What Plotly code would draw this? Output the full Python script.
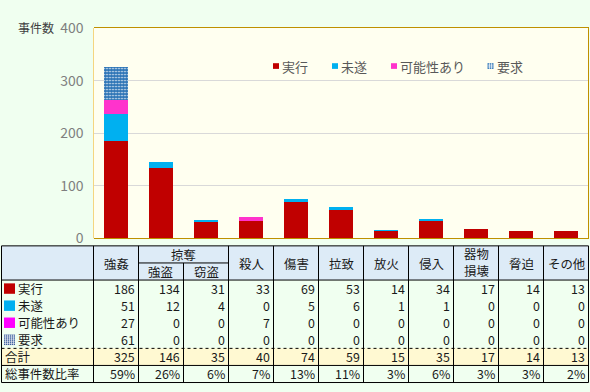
import plotly.graph_objects as go

# ---------------- data ----------------
categories = ["強姦", "強盗", "窃盗", "殺人", "傷害", "拉致", "放火", "侵入", "器物損壊", "脅迫", "その他"]
header_labels = ["強姦", "強盗", "窃盗", "殺人", "傷害", "拉致", "放火", "侵入", "器物<br>損壊", "脅迫", "その他"]
group_label = "掠奪"          # spans 強盗 and 窃盗
group_span = (1, 2)
series_names = ["実行", "未遂", "可能性あり", "要求"]
jikko = [186, 134, 31, 33, 69, 53, 14, 34, 17, 14, 13]
misui = [51, 12, 4, 0, 5, 6, 1, 1, 0, 0, 0]
kanousei = [27, 0, 0, 7, 0, 0, 0, 0, 0, 0, 0]
youkyuu = [61, 0, 0, 0, 0, 0, 0, 0, 0, 0, 0]
totals = [325, 146, 35, 40, 74, 59, 15, 35, 17, 14, 13]
ratios = ["59%", "26%", "6%", "7%", "13%", "11%", "3%", "6%", "3%", "3%", "2%"]
total_label = "合計"
ratio_label = "総事件数比率"
y_title = "事件数"
y_ticks = [0, 100, 200, 300, 400]

# ---------------- styling ----------------
W, H = 590, 392
FONT = "Noto Sans CJK JP"
PAGE_BG = "#F0FFF0"
PLOT_BG = "#FFFFF0"
HEAD_BG = "#DDEBF7"
TOTAL_BG = "#FFF9D2"
C_JIKKO = "#C00000"
C_MISUI = "#00B0F0"
C_KANOU = "#FF33CC"
C_KANOU_T = "#FF00FF"
C_YOUK = "#2E75B6"
TXT = "#1A1A1A"
TFS = 12.4   # table font size

PLOT_L, PLOT_R, PLOT_T, PLOT_B = 93.5, 588.5, 18, 239.5


def fx(p):
    return p / W


def fy(p):
    return 1 - p / H


fig = go.Figure()
series_vals = [jikko, misui, kanousei, youkyuu]
colors = [C_JIKKO, C_MISUI, C_KANOU, C_YOUK]
for name, vals, col in zip(series_names, series_vals, colors):
    marker = dict(color=col, line=dict(width=0))
    if name == "要求":
        marker = dict(color=col, line=dict(width=0),
                      pattern=dict(shape=".", bgcolor=col, fgcolor="white",
                                   size=3, solidity=0.22, fillmode="replace"))
    fig.add_trace(go.Bar(x=categories, y=vals, name=name, marker=marker,
                         width=0.53, showlegend=False))

shapes = []
annotations = []

# plot-area frame
shapes.append(dict(type="line", xref="paper", yref="paper", x0=fx(PLOT_L), x1=fx(PLOT_L),
                   y0=fy(PLOT_B), y1=fy(PLOT_T), line=dict(color="#F5D680", width=1)))
shapes.append(dict(type="line", xref="paper", yref="paper", x0=fx(PLOT_R), x1=fx(PLOT_R),
                   y0=fy(PLOT_B), y1=fy(PLOT_T), line=dict(color="#BF9000", width=1)))

# y-axis title
annotations.append(dict(text=y_title, xref="paper", yref="paper", x=fx(36), y=fy(17),
                        xanchor="center", yanchor="middle", showarrow=False, borderpad=0,
                        font=dict(family=FONT, size=12, color="#404040")))

# manual legend
lx = 273
for name, col in zip(series_names, colors):
    shapes.append(dict(type="rect", xref="paper", yref="paper", x0=fx(lx), x1=fx(lx + 6),
                       y0=fy(61), y1=fy(55), fillcolor=col, line=dict(width=0)))
    if name == "要求":
        for off in (2, 4):
            shapes.append(dict(type="line", xref="paper", yref="paper", x0=fx(lx + off), x1=fx(lx + off),
                               y0=fy(61), y1=fy(55), line=dict(color="white", width=0.7)))
            shapes.append(dict(type="line", xref="paper", yref="paper", x0=fx(lx), x1=fx(lx + 6),
                               y0=fy(55 + off), y1=fy(55 + off), line=dict(color="white", width=0.7)))
    annotations.append(dict(text=name, xref="paper", yref="paper", x=fx(lx + 8), y=fy(58),
                            xanchor="left", yanchor="middle", showarrow=False, borderpad=0,
                            font=dict(family=FONT, size=13, color="#595959")))
    lx += 34 + 12.5 * len(name)

# ---------------- table ----------------
TL, TR = 1.5, PLOT_R
T_TOP, T_MID, T_HB = 247.5, 265.5, 283.5
ROW_H = 18
n = len(categories)
CW = (PLOT_R - PLOT_L) / n
col_x = [PLOT_L + k * CW for k in range(n + 1)]
row_labels = series_names + [total_label, ratio_label]
row_edges = [T_HB + i * ROW_H for i in range(len(row_labels) + 1)]
T_BOT = row_edges[-1]


def rect(x0, x1, y0, y1, fill):
    shapes.append(dict(type="rect", xref="paper", yref="paper", x0=fx(x0), x1=fx(x1),
                       y0=fy(y1), y1=fy(y0), fillcolor=fill, line=dict(width=0)))


def hline(y, x0, x1, dash="solid", color="black", width=1):
    shapes.append(dict(type="line", xref="paper", yref="paper", x0=fx(x0), x1=fx(x1),
                       y0=fy(y), y1=fy(y), line=dict(color=color, width=width, dash=dash)))


def vline(x, y0, y1, color="black", width=1):
    shapes.append(dict(type="line", xref="paper", yref="paper", x0=fx(x), x1=fx(x),
                       y0=fy(y0), y1=fy(y1), line=dict(color=color, width=width)))


def text(t, x, y, anchor="center", size=TFS, color=TXT):
    annotations.append(dict(text=t, xref="paper", yref="paper", x=fx(x), y=fy(y),
                            xanchor=anchor, yanchor="middle", showarrow=False, borderpad=0,
                            font=dict(family=FONT, size=size, color=color)))


# backgrounds
rect(TL, TR, T_TOP, T_HB, HEAD_BG)
tot_i = row_labels.index(total_label)
rect(TL, TR, row_edges[tot_i], row_edges[tot_i + 1], TOTAL_BG)

# label squares
sq_cols = [C_JIKKO, C_MISUI, C_KANOU_T, "#2F5597"]
for i, col in enumerate(sq_cols):
    cy = (row_edges[i] + row_edges[i + 1]) / 2
    rect(4, 15, cy - 5.5, cy + 5.5, col)
    if i == 3:
        for off in (1.5, 3.5, 5.5, 7.5, 9.5):
            vline(4 + off, cy - 5.5, cy + 5.5, color="white", width=0.6)
            hline(cy - 5.5 + off, 4, 15, color="white", width=0.6)

# grid lines
hline(T_TOP, TL, TR)
hline(T_HB, TL, TR)
hline(T_BOT, TL, TR)
hline(row_edges[tot_i], TL, TR, dash="dot")
hline(row_edges[tot_i + 1], TL, TR)
g0, g1 = group_span
hline(T_MID, col_x[g0], col_x[g1 + 1])
vline(TL, T_TOP, T_BOT)
for k in range(n + 1):
    top = T_MID if (g0 < k <= g1) else T_TOP
    vline(col_x[k], top, T_BOT)

# header texts
for k, lab in enumerate(header_labels):
    cx = (col_x[k] + col_x[k + 1]) / 2
    if g0 <= k <= g1:
        text(lab, cx, (T_MID + T_HB) / 2 + 1)
    elif "<br>" in lab:
        parts = lab.split("<br>")
        text(parts[0], cx, (T_TOP + T_MID) / 2 - 0.5)
        text(parts[1], cx, (T_MID + T_HB) / 2)
    else:
        text(lab, cx, (T_TOP + T_HB) / 2 + 1)
text(group_label, (col_x[g0] + col_x[g1 + 1]) / 2, (T_TOP + T_MID) / 2 + 1)

# body
table_rows = series_vals + [totals, ratios]
for i, (lab, vals) in enumerate(zip(row_labels, table_rows)):
    cy = (row_edges[i] + row_edges[i + 1]) / 2 + 0.5
    lx0 = 17 if i < len(series_names) else 4
    text(lab, lx0, cy, anchor="left")
    for k, v in enumerate(vals):
        text(str(v), col_x[k + 1] - 3, cy, anchor="right")

fig.update_layout(
    width=W, height=H, autosize=False,
    margin=dict(l=0, r=0, t=0, b=0),
    paper_bgcolor=PAGE_BG, plot_bgcolor=PLOT_BG,
    barmode="stack", bargap=0.47,
    font=dict(family=FONT),
    xaxis=dict(domain=[fx(PLOT_L), fx(PLOT_R)], type="category", range=[-0.5, n - 0.5],
               showticklabels=False, showgrid=False, zeroline=False, ticks="",
               showline=True, linecolor="#BF9000", linewidth=1, mirror=True),
    yaxis=dict(domain=[fy(PLOT_B), fy(PLOT_T)], range=[0, 400], tickvals=y_ticks,
               showgrid=True, gridcolor="#D9D9D9", gridwidth=1, zeroline=False,
               showline=False, ticks="", ticklabelstandoff=9,
               tickfont=dict(family=FONT, size=14, color="#7F7F7F")),
    shapes=shapes, annotations=annotations,
)

fig.write_html("out.html", config={"displayModeBar": False})
